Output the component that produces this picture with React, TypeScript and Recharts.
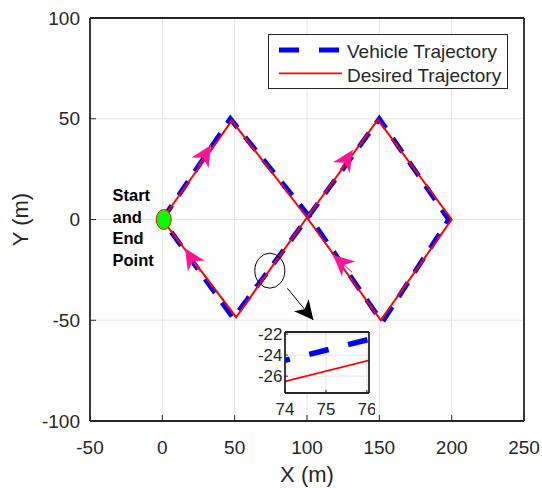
import React from "react";
import {
  CartesianGrid,
  ComposedChart,
  Label,
  Line,
  Scatter,
  XAxis,
  YAxis,
} from "recharts";

const xTicks = [-50, 0, 50, 100, 150, 200, 250];
const yTicks = [-100, -50, 0, 50, 100];

// desired figure-eight path (m)
const desiredX = [0, 48, 100, 151, 200, 149, 100, 51, 0];
const desiredY = [0, 49, 1, -50, 0, 49.5, 1, -48.5, 0];
// vehicle path
const vehicleX = [0, 47, 101, 152, 198, 150, 101, 49, 0];
const vehicleY = [0, 50, 2, -51, 0, 50, 1.5, -49, 0];

// direction arrows: tail -> tip
const dirTailX = [24.7, 26, 122.8, 131];
const dirTailY = [26.5, -26, 24.6, -26];
const dirTipX = [33.7, 15.7, 131.6, 118];
const dirTipY = [37, -14.3, 34.5, -17.6];

const startPoint = [{ x: 1, y: 0 }];
const zoomMark = [{ x: 74.3, y: -25.4 }];
const pointerX = [86.4, 104.4];
const pointerY = [-34.1, -49.9];

// magnified view
const insetXTicks = [74, 75, 76];
const insetYTicks = [-26, -24, -22];
const insetX = [74, 76.05];
const insetDesired = [-26.5, -24.5];
const insetVehicle = [-24.5, -22.5];

const ink = "#262626";
const font = "'Liberation Sans', Arial, Helvetica, sans-serif";

const toPoints = (xs: number[], ys: number[]) =>
  xs.map((x, i) => ({ x, y: ys[i] }));

const arrowHead =
  (len: number, half: number, notch: number, color: string) =>
  (props: any) => {
    const { cx, cy, index, points } = props;
    if (!index || !points || points.length < 2) return <g key={`d-${index}`} />;
    const prev = points[index - 1];
    const a = Math.atan2(cy - prev.y, cx - prev.x);
    const c = Math.cos(a);
    const s = Math.sin(a);
    const p = (u: number, v: number) =>
      `${cx + u * c - v * s},${cy + u * s + v * c}`;
    return (
      <polygon
        key={`d-${index}`}
        points={[p(0, 0), p(-len, half), p(-len + notch, 0), p(-len, -half)].join(" ")}
        fill={color}
        stroke="none"
      />
    );
  };

const axisLine = { stroke: ink, strokeWidth: 1.8 };
const tickLine = { stroke: ink, strokeWidth: 1 };

const Inset = () => (
  <div style={{ position: "absolute", left: 240, top: 320 }}>
    <ComposedChart
      width={135}
      height={100}
      margin={{ top: 12, right: 6, bottom: 0, left: 0 }}
    >
      <CartesianGrid stroke="#e3e3e3" fill="#ffffff" />
      <XAxis
        type="number"
        dataKey="x"
        domain={[74, 76.05]}
        ticks={insetXTicks}
        interval={0}
        allowDataOverflow
        height={27}
        tickSize={-3}
        tickMargin={12.5}
        tick={{ fontSize: 17, fill: ink, fontFamily: font }}
        axisLine={axisLine}
        tickLine={tickLine}
      />
      <XAxis
        xAxisId="top"
        orientation="top"
        mirror
        type="number"
        dataKey="x"
        domain={[74, 76.05]}
        ticks={insetXTicks}
        interval={0}
        tickSize={3}
        tickFormatter={() => ""}
        axisLine={axisLine}
        tickLine={tickLine}
      />
      <YAxis
        type="number"
        dataKey="y"
        domain={[-27.6, -21.8]}
        ticks={insetYTicks}
        interval={0}
        allowDataOverflow
        width={45}
        tickSize={-3}
        tickMargin={5.5}
        tick={{ fontSize: 17, fill: ink, fontFamily: font }}
        axisLine={axisLine}
        tickLine={tickLine}
      />
      <YAxis
        yAxisId="right"
        orientation="right"
        mirror
        type="number"
        dataKey="y"
        domain={[-27.6, -21.8]}
        ticks={insetYTicks}
        interval={0}
        tickSize={3}
        tickFormatter={() => ""}
        axisLine={axisLine}
        tickLine={tickLine}
      />
      <Line
        data={toPoints(insetX, insetVehicle)}
        dataKey="y"
        stroke="#0000ff"
        strokeWidth={5.5}
        strokeDasharray="20 20"
        strokeDashoffset={15}
        dot={false}
        isAnimationActive={false}
      />
      <Line
        data={toPoints(insetX, insetDesired)}
        dataKey="y"
        stroke="#ff0000"
        strokeWidth={1.8}
        dot={false}
        isAnimationActive={false}
      />
    </ComposedChart>
  </div>
);

const LegendBox = () => (
  <div
    style={{
      position: "absolute",
      left: 268,
      top: 34,
      width: 240,
      height: 55,
      boxSizing: "border-box",
      border: `1px solid ${ink}`,
      background: "#fff",
    }}
  >
    <svg width={238} height={53} style={{ display: "block" }}>
      <line x1={10} x2={70} y1={15} y2={15} stroke="#0000ff" strokeWidth={5} strokeDasharray="20 20" />
      <line x1={10} x2={73} y1={38.3} y2={38.3} stroke="#ff0000" strokeWidth={1.8} />
      <text x={78} y={22.7} fontSize={19} fill={ink} fontFamily={font}>
        Vehicle Trajectory
      </text>
      <text x={78} y={46.7} fontSize={19} fill={ink} fontFamily={font}>
        Desired Trajectory
      </text>
    </svg>
  </div>
);

export default function App() {
  return (
    <div
      style={{
        position: "absolute",
        left: 0,
        top: 0,
        width: 542,
        height: 488,
        background: "#fff",
      }}
    >
      <ComposedChart
        width={542}
        height={488}
        margin={{ top: 18, right: 18, bottom: 0, left: 0 }}
      >
        <CartesianGrid stroke="#e3e3e3" />
        <XAxis
          type="number"
          dataKey="x"
          domain={[-50, 250]}
          ticks={xTicks}
          interval={0}
          allowDataOverflow
          height={67}
          tickSize={-6}
          tickMargin={26}
          tick={{ fontSize: 19, fill: ink, fontFamily: font }}
          axisLine={axisLine}
          tickLine={tickLine}
        >
          <Label
            value="X (m)"
            position="insideBottom"
            offset={6}
            style={{ fontSize: 22, fill: ink, fontFamily: font }}
          />
        </XAxis>
        <XAxis
          xAxisId="top"
          orientation="top"
          mirror
          type="number"
          dataKey="x"
          domain={[-50, 250]}
          ticks={xTicks}
          interval={0}
          tickSize={6}
          tickFormatter={() => ""}
          axisLine={axisLine}
          tickLine={tickLine}
        />
        <YAxis
          type="number"
          dataKey="y"
          domain={[-100, 100]}
          ticks={yTicks}
          interval={0}
          allowDataOverflow
          width={90}
          tickSize={-6}
          tickMargin={16}
          tick={{ fontSize: 19, fill: ink, fontFamily: font }}
          axisLine={axisLine}
          tickLine={tickLine}
        >
          <Label
            value="Y (m)"
            angle={-90}
            position="insideLeft"
            offset={20}
            style={{ textAnchor: "middle", fontSize: 22, fill: ink, fontFamily: font }}
          />
        </YAxis>
        <YAxis
          yAxisId="right"
          orientation="right"
          mirror
          type="number"
          dataKey="y"
          domain={[-100, 100]}
          ticks={yTicks}
          interval={0}
          tickSize={6}
          tickFormatter={() => ""}
          axisLine={axisLine}
          tickLine={tickLine}
        />
        <Line
          data={toPoints(vehicleX, vehicleY)}
          dataKey="y"
          stroke="#0000ff"
          strokeWidth={5}
          strokeDasharray="17 12"
          dot={false}
          isAnimationActive={false}
        />
        <Line
          data={toPoints(desiredX, desiredY)}
          dataKey="y"
          stroke="#ff0000"
          strokeWidth={2}
          dot={false}
          isAnimationActive={false}
        />
        {dirTipX.map((tx, i) => (
          <Line
            key={`dir-${i}`}
            data={toPoints([dirTailX[i], tx], [dirTailY[i], dirTipY[i]])}
            dataKey="y"
            stroke="#ff1493"
            strokeWidth={1}
            dot={arrowHead(21, 10, 6, "#ff1493")}
            activeDot={false}
            isAnimationActive={false}
          />
        ))}
        <Line
          data={toPoints(pointerX, pointerY)}
          dataKey="y"
          stroke="#000000"
          strokeWidth={1}
          dot={arrowHead(19, 9.5, 5, "#000000")}
          activeDot={false}
          isAnimationActive={false}
        />
        <Scatter
          data={zoomMark}
          isAnimationActive={false}
          shape={(p: any) => (
            <ellipse cx={p.cx} cy={p.cy} rx={15} ry={17.5} fill="none" stroke="#000" strokeWidth={1} />
          )}
        />
        <Scatter
          data={startPoint}
          isAnimationActive={false}
          shape={(p: any) => (
            <ellipse cx={p.cx} cy={p.cy} rx={7.5} ry={10} fill="#00ff00" stroke="#ff0000" strokeWidth={1} />
          )}
        />
      </ComposedChart>
      <LegendBox />
      <Inset />
      <div
        style={{
          position: "absolute",
          left: 112.5,
          top: 185,
          fontFamily: font,
          fontWeight: "bold",
          fontSize: 16.5,
          lineHeight: "21.5px",
          color: "#000",
        }}
      >
        Start
        <br />
        and
        <br />
        End
        <br />
        Point
      </div>
    </div>
  );
}
